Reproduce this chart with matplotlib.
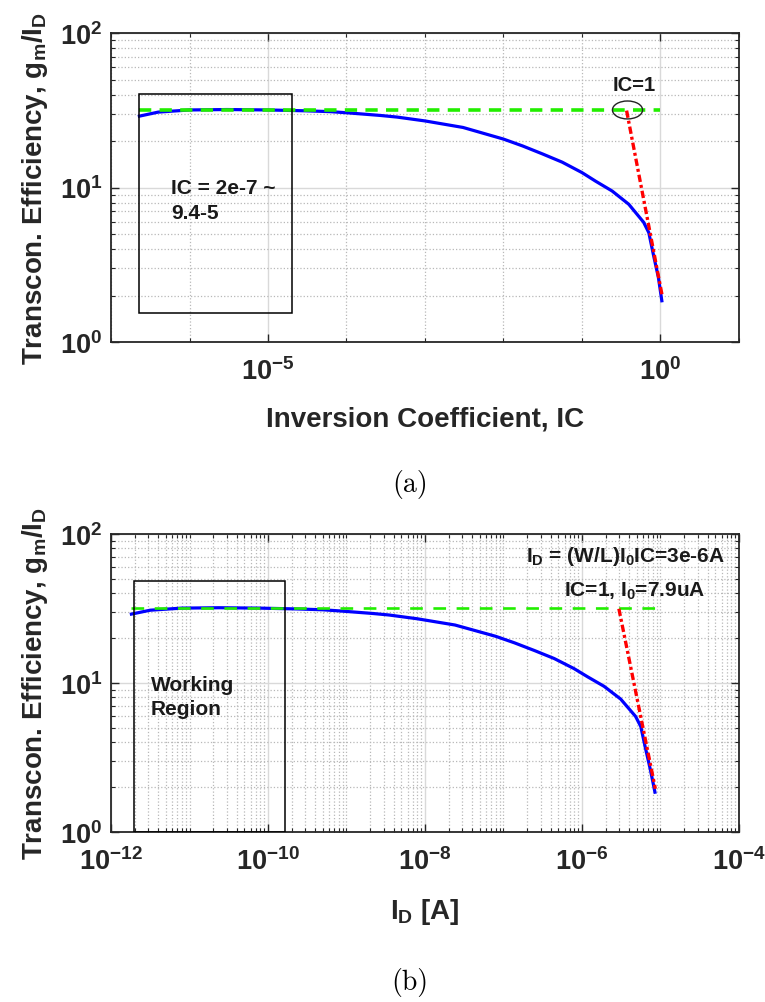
"""
Eficiencia de transconductancia gm/ID frente a IC y frente a ID
"""

import numpy as np
import matplotlib
matplotlib.use('Agg')
import matplotlib.pyplot as plt
from matplotlib.patches import Rectangle, Ellipse
from matplotlib.ticker import FixedLocator, LogLocator, LogFormatterSciNotation, NullFormatter

plt.rcParams['font.family'] = ['Liberation Sans', 'DejaVu Sans']
plt.rcParams['font.weight'] = 'bold'
plt.rcParams['mathtext.fontset'] = 'custom'
plt.rcParams['mathtext.rm'] = 'Liberation Sans:bold'
plt.rcParams['mathtext.it'] = 'Liberation Sans:bold'
plt.rcParams['mathtext.bf'] = 'Liberation Sans:bold'
plt.rcParams['mathtext.default'] = 'rm'

# Datos
ic = [2.3e-7, 4e-7, 1e-6, 3e-6, 1e-5, 3e-5, 6.3e-5, 1e-4, 2.7e-4, 4.4e-4,
      1e-3, 3.05e-3, 1e-2, 1.75e-2, 3.15e-2, 5.6e-2, 0.1, 0.149, 0.242, 0.394,
      0.61, 0.71, 0.81, 0.94, 1.04]
gm_id = [29.0, 30.8, 31.8, 32.0, 31.8, 31.4, 31.0, 30.5, 29.3, 28.6,
         27.0, 24.5, 20.6, 18.6, 16.5, 14.6, 12.5, 11.0, 9.5, 7.8,
         5.96, 5.1, 3.7, 2.62, 1.85]
id_amp = [1.82e-12, 3.16e-12, 7.9e-12, 2.37e-11, 7.9e-11, 2.37e-10, 4.98e-10,
          7.9e-10, 2.13e-9, 3.48e-9, 7.9e-9, 2.41e-8, 7.9e-8, 1.38e-7, 2.49e-7,
          4.42e-7, 7.9e-7, 1.18e-6, 1.91e-6, 3.11e-6, 4.82e-6, 5.61e-6, 6.4e-6,
          7.43e-6, 8.5e-6]

# asintotas: inversion debil (horizontal) e inversion fuerte (roja)
weak_ic = [2.3e-7, 1.0]
weak_id = [1.8e-12, 8.8e-6]
weak_gm = [32.0, 32.0]
strong_ic = [0.37, 1.06]
strong_id = [2.95e-6, 8.6e-6]
strong_gm = [31.5, 1.95]

# regiones marcadas
box_a_x = [2.26e-7, 2.0e-5]
box_a_y = [1.54, 40.3]
box_b_x = [1.96e-12, 1.65e-10]
box_b_y = [1.0, 48.4]

xticks_a = [1e-5, 1e0]
xticks_b = [1e-12, 1e-10, 1e-8, 1e-6, 1e-4]
yticks = [1e0, 1e1, 1e2]

AX_COLOR = '#262626'


def style_axes(ax, xlim, xticks, xminor_subs):
    ax.set_xscale('log')
    ax.set_yscale('log')
    ax.set_xlim(xlim)
    ax.set_ylim(1, 100)
    ax.xaxis.set_major_locator(FixedLocator(xticks))
    ax.xaxis.set_major_formatter(LogFormatterSciNotation())
    ax.xaxis.set_minor_locator(LogLocator(base=10, subs=xminor_subs, numticks=200))
    ax.xaxis.set_minor_formatter(NullFormatter())
    ax.yaxis.set_major_locator(FixedLocator(yticks))
    ax.yaxis.set_major_formatter(LogFormatterSciNotation())
    ax.yaxis.set_minor_locator(LogLocator(base=10, subs=np.arange(2, 10), numticks=200))
    ax.yaxis.set_minor_formatter(NullFormatter())

    ax.grid(True, which='major', color='#d9d9d9', linestyle='-', linewidth=1.0)
    ax.grid(True, which='minor', color='#b8b8b8', linestyle=':', linewidth=0.9)
    ax.set_axisbelow(True)

    ax.tick_params(which='both', direction='in', top=True, right=True,
                   colors=AX_COLOR, labelcolor=AX_COLOR)
    ax.tick_params(which='major', length=6, width=1.0, labelsize=19.5)
    ax.tick_params(which='minor', length=3, width=0.8)
    ax.tick_params(axis='x', which='major', pad=11)
    ax.tick_params(axis='y', which='major', pad=6)
    for s in ax.spines.values():
        s.set_color(AX_COLOR)
        s.set_linewidth(1.3)

    ax.set_ylabel(r'Transcon. Efficiency, g$_{m}$/I$_{D}$', fontsize=20,
                  fontweight='bold', color=AX_COLOR)
    ax.yaxis.set_label_coords(-0.097, 0.5)


fig = plt.figure(figsize=(7.65, 10.03), dpi=100)

# (a) gm/ID frente a IC
ax_a = fig.add_axes([0.1451, 0.658, 0.8209, 0.308])
style_axes(ax_a, (1e-7, 1e1), xticks_a, (1.0,))
ax_a.plot(ic, gm_id, color='#0000ff', linewidth=2.3, zorder=3)
ax_a.plot(weak_ic, weak_gm, color='#22ee00', linewidth=2.6,
          dashes=(3.4, 2.3), zorder=4)
ax_a.plot(strong_ic, strong_gm, color='#ff0000', linewidth=2.4,
          dashes=(2.2, 0.9, 0.9, 0.9), zorder=5)
ax_a.add_patch(Rectangle((box_a_x[0], box_a_y[0]), box_a_x[1] - box_a_x[0],
                         box_a_y[1] - box_a_y[0], fill=False,
                         edgecolor='black', linewidth=1.1, zorder=6))
ax_a.text(5.8e-7, 8.3, 'IC = 2e-7 ~\n9.4-5', fontsize=15, fontweight='bold',
          color='#1a1a1a', ha='left', va='center', linespacing=1.35, zorder=7)
ax_a.text(0.46, 46.8, 'IC=1', fontsize=14.5, fontweight='bold',
          color='#1a1a1a', ha='center', va='center', zorder=7)
ex, ey = ax_a.transAxes.inverted().transform(ax_a.transData.transform((0.38, 31.8)))
ax_a.add_patch(Ellipse((ex, ey), 0.048, 0.058, transform=ax_a.transAxes,
                       fill=False, edgecolor='#222222', linewidth=1.0, zorder=7))
ax_a.set_xlabel('Inversion Coefficient, IC', fontsize=20, fontweight='bold',
                color=AX_COLOR)
ax_a.xaxis.set_label_coords(0.5, -0.205)

# (b) gm/ID frente a ID
ax_b = fig.add_axes([0.1451, 0.1695, 0.8209, 0.2971])
style_axes(ax_b, (1e-12, 1e-4), xticks_b, np.arange(1, 10))
ax_b.plot(id_amp, gm_id, color='#0000ff', linewidth=2.3, zorder=3)
ax_b.plot(weak_id, weak_gm, color='#22ee00', linewidth=1.9,
          dashes=(4.8, 4.0), zorder=4)
ax_b.plot(strong_id, strong_gm, color='#ff0000', linewidth=2.4,
          dashes=(2.2, 0.9, 0.9, 0.9), zorder=5)
ax_b.add_patch(Rectangle((box_b_x[0], box_b_y[0]), box_b_x[1] - box_b_x[0],
                         box_b_y[1] - box_b_y[0], fill=False,
                         edgecolor='black', linewidth=1.1, zorder=6))
ax_b.text(3.2e-12, 8.1, 'Working\nRegion', fontsize=15, fontweight='bold',
          color='#1a1a1a', ha='left', va='center', linespacing=1.35, zorder=7)
ax_b.text(6.6e-5, 65.9, r'I$_{D}$ = (W/L)I$_{0}$IC=3e-6A', fontsize=15,
          fontweight='bold', color='#1a1a1a', ha='right', va='baseline', zorder=7)
ax_b.text(3.7e-5, 38.4, r'IC=1, I$_{0}$=7.9uA', fontsize=15,
          fontweight='bold', color='#1a1a1a', ha='right', va='baseline', zorder=7)
ax_b.set_xlabel(r'I$_{D}$ [A]', fontsize=20, fontweight='bold', color=AX_COLOR)
ax_b.xaxis.set_label_coords(0.5, -0.215)

# etiquetas de subfigura
fig.text(0.536, 1 - 485 / 1003, '(a)', fontsize=20, family='cmr10',
         fontweight='normal', ha='center', va='center', color='black')
fig.text(0.536, 1 - 983 / 1003, '(b)', fontsize=20, family='cmr10',
         fontweight='normal', ha='center', va='center', color='black')

fig.savefig('out.png', dpi=100)
